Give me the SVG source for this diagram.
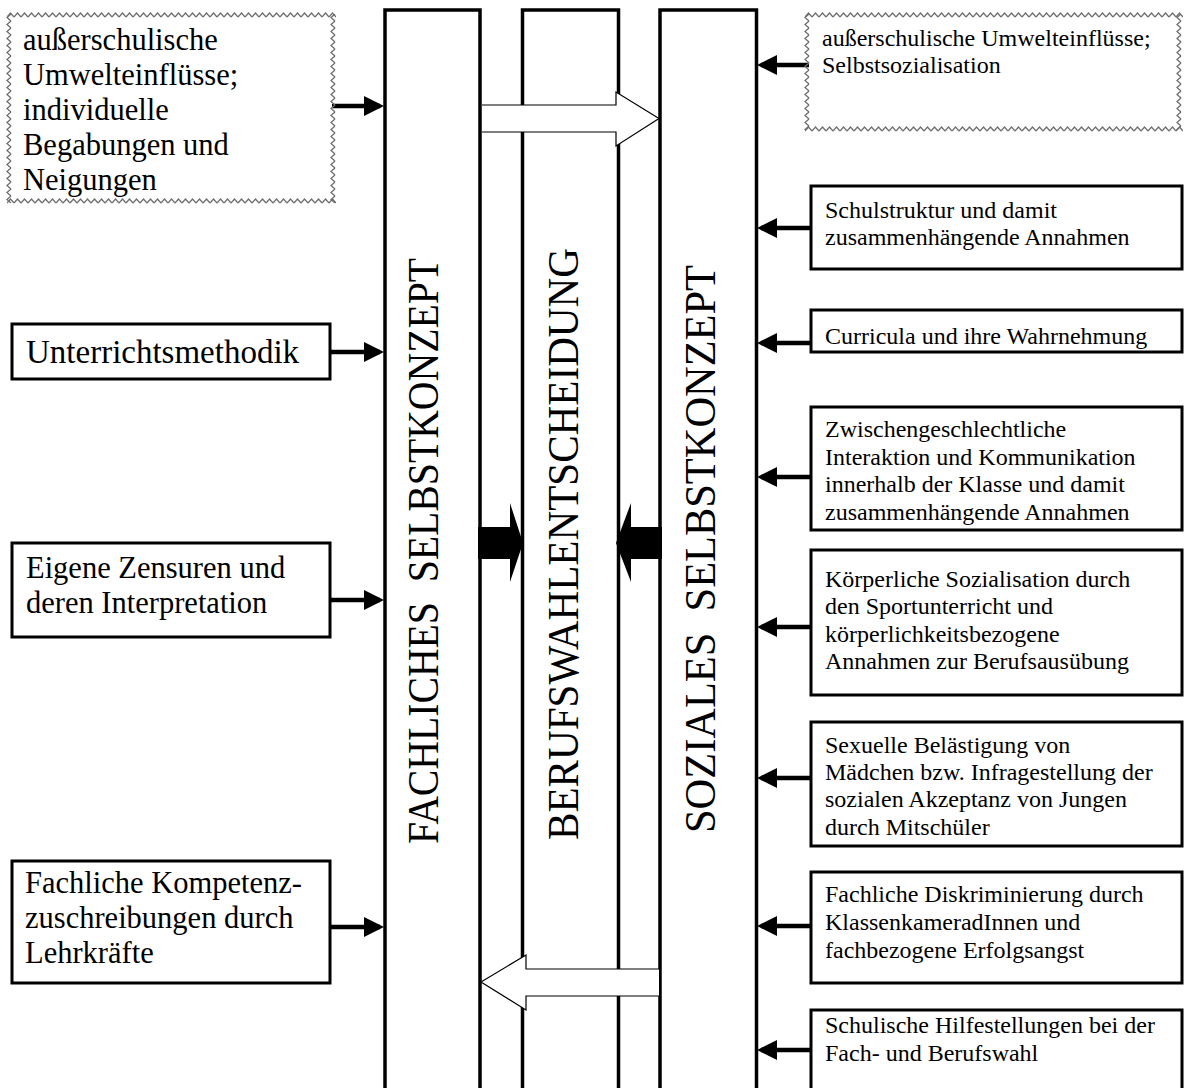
<svg xmlns="http://www.w3.org/2000/svg" width="1185" height="1088" viewBox="0 0 1185 1088">
<style>
.box{fill:#fff;stroke:#000;stroke-width:3}
.col{fill:#fff;stroke:#000;stroke-width:3.5}
.conn{fill:none;stroke:#000;stroke-width:4.5;marker-end:url(#ah)}
.hollow{fill:#fff;stroke:#000;stroke-width:1.2}
.solid{fill:#000;stroke:none}
text{font-family:"Liberation Serif","Times New Roman",serif;fill:#000}
.tl{font-size:30.5px}
.tu{font-size:33px}
.tr{font-size:24px}
.vt{font-size:44px}
</style>
<defs>
<marker id="ah" markerWidth="20" markerHeight="20" refX="16" refY="10" orient="auto" markerUnits="userSpaceOnUse">
<path d="M0,0 L20,10 L0,20 z" fill="#000"/>
</marker>
<pattern id="zzh" width="7" height="6" patternUnits="userSpaceOnUse">
<path d="M0,5 L3.5,1 L7,5" fill="none" stroke="#6e6e6e" stroke-width="1.3"/>
</pattern>
<pattern id="zzv" width="6" height="7" patternUnits="userSpaceOnUse">
<path d="M5,0 L1,3.5 L5,7" fill="none" stroke="#6e6e6e" stroke-width="1.3"/>
</pattern>
</defs>
<rect width="1185" height="1088" fill="#fff"/>

<g id="columns">
<g id="col-fachlich">
<rect class="col" x="385" y="10" width="95" height="1100"/>
<text class="vt" transform="translate(438,551) rotate(-90)" text-anchor="middle" textLength="586" lengthAdjust="spacingAndGlyphs">FACHLICHES&#160; SELBSTKONZEPT</text>
</g>
<g id="col-berufswahl">
<rect class="col" x="522.5" y="10" width="96" height="1100"/>
<text class="vt" transform="translate(578,544) rotate(-90)" text-anchor="middle" textLength="592" lengthAdjust="spacingAndGlyphs">BERUFSWAHLENTSCHEIDUNG</text>
</g>
<g id="col-sozial">
<rect class="col" x="660" y="10" width="96.5" height="1100"/>
<text class="vt" transform="translate(715,549) rotate(-90)" text-anchor="middle" textLength="568" lengthAdjust="spacingAndGlyphs">SOZIALES&#160; SELBSTKONZEPT</text>
</g>
</g>

<g id="connectors">
<path class="hollow" d="M482,105 L616,105 L616,92 L659,118.5 L616,146 L616,132 L482,132"/>
<path class="hollow" d="M659,969 L526,969 L526,955 L481,982 L526,1010 L526,996 L659,996"/>
<path class="solid" d="M478,527 L510,527 L510,503 L523,543 L510,582 L510,559 L478,559 z"/>
<path class="solid" d="M662,527 L631,527 L631,503 L616,543 L631,582 L631,559 L662,559 z"/>
<line class="conn" x1="332" y1="106" x2="380" y2="106"/>
<line class="conn" x1="331" y1="352" x2="380" y2="352"/>
<line class="conn" x1="331" y1="600" x2="380" y2="600"/>
<line class="conn" x1="331" y1="927" x2="380" y2="927"/>
<line class="conn" x1="809" y1="65" x2="761" y2="65"/>
<line class="conn" x1="811" y1="228" x2="761" y2="228"/>
<line class="conn" x1="811" y1="343" x2="761" y2="343"/>
<line class="conn" x1="811" y1="477" x2="761" y2="477"/>
<line class="conn" x1="811" y1="627" x2="761" y2="627"/>
<line class="conn" x1="811" y1="778" x2="761" y2="778"/>
<line class="conn" x1="811" y1="926" x2="761" y2="926"/>
<line class="conn" x1="811" y1="1050" x2="761" y2="1050"/>
</g>

<g id="n-ausserschulisch-links">
<rect x="7" y="12" width="329" height="6" fill="url(#zzh)"/>
<rect x="7" y="198" width="329" height="6" fill="url(#zzh)"/>
<rect x="6" y="14" width="6" height="189" fill="url(#zzv)"/>
<rect x="330" y="14" width="6" height="189" fill="url(#zzv)"/>
<text class="tl" x="23" y="50">außerschulische</text>
<text class="tl" x="23" y="85">Umwelteinflüsse;</text>
<text class="tl" x="23" y="120">individuelle</text>
<text class="tl" x="23" y="155">Begabungen und</text>
<text class="tl" x="23" y="190">Neigungen</text>
</g>

<g id="n-unterrichtsmethodik">
<rect class="box" x="12" y="324" width="318" height="55"/>
<text class="tu" x="26" y="363">Unterrichtsmethodik</text>
</g>

<g id="n-zensuren">
<rect class="box" x="12" y="543" width="318" height="94"/>
<text class="tl" x="26" y="578">Eigene Zensuren und</text>
<text class="tl" x="26" y="613">deren Interpretation</text>
</g>

<g id="n-kompetenz">
<rect class="box" x="12" y="861" width="318" height="122"/>
<text class="tl" x="25" y="893">Fachliche Kompetenz-</text>
<text class="tl" x="25" y="928">zuschreibungen durch</text>
<text class="tl" x="25" y="963">Lehrkräfte</text>
</g>

<g id="n-ausserschulisch-rechts">
<rect x="805" y="12" width="378" height="6" fill="url(#zzh)"/>
<rect x="805" y="126" width="378" height="6" fill="url(#zzh)"/>
<rect x="804" y="14" width="6" height="116" fill="url(#zzv)"/>
<rect x="1176" y="14" width="6" height="116" fill="url(#zzv)"/>
<text class="tr" x="822" y="46">außerschulische Umwelteinflüsse;</text>
<text class="tr" x="822" y="73">Selbstsozialisation</text>
</g>

<g id="n-schulstruktur">
<rect class="box" x="811" y="186" width="371" height="83"/>
<text class="tr" x="825" y="218">Schulstruktur und damit</text>
<text class="tr" x="825" y="245">zusammenhängende Annahmen</text>
</g>

<g id="n-curricula">
<rect class="box" x="811" y="310" width="371" height="42"/>
<text class="tr" x="825" y="344">Curricula und ihre Wahrnehmung</text>
</g>

<g id="n-interaktion">
<rect class="box" x="811" y="407" width="371" height="123"/>
<text class="tr" x="825" y="437">Zwischengeschlechtliche</text>
<text class="tr" x="825" y="465">Interaktion und Kommunikation</text>
<text class="tr" x="825" y="492">innerhalb der Klasse und damit</text>
<text class="tr" x="825" y="520">zusammenhängende Annahmen</text>
</g>

<g id="n-koerper">
<rect class="box" x="811" y="550" width="371" height="145"/>
<text class="tr" x="825" y="587">Körperliche Sozialisation durch</text>
<text class="tr" x="825" y="614">den Sportunterricht und</text>
<text class="tr" x="825" y="642">körperlichkeitsbezogene</text>
<text class="tr" x="825" y="669">Annahmen zur Berufsausübung</text>
</g>

<g id="n-belaestigung">
<rect class="box" x="811" y="722" width="371" height="124"/>
<text class="tr" x="825" y="753">Sexuelle Belästigung von</text>
<text class="tr" x="825" y="780">Mädchen bzw. Infragestellung der</text>
<text class="tr" x="825" y="807">sozialen Akzeptanz von Jungen</text>
<text class="tr" x="825" y="835">durch Mitschüler</text>
</g>

<g id="n-diskriminierung">
<rect class="box" x="811" y="872" width="371" height="111"/>
<text class="tr" x="825" y="902">Fachliche Diskriminierung durch</text>
<text class="tr" x="825" y="930">KlassenkameradInnen und</text>
<text class="tr" x="825" y="958">fachbezogene Erfolgsangst</text>
</g>

<g id="n-hilfestellung">
<rect class="box" x="811" y="1010" width="371" height="100"/>
<text class="tr" x="825" y="1033">Schulische Hilfestellungen bei der</text>
<text class="tr" x="825" y="1061">Fach- und Berufswahl</text>
</g>
</svg>
